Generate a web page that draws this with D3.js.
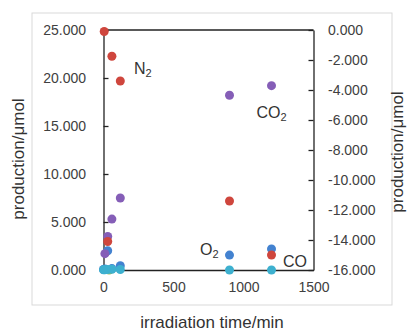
<!DOCTYPE html>
<html>
<head>
<meta charset="utf-8">
<script src="https://cdn.jsdelivr.net/npm/d3@7"></script>
<style>
  body { margin: 0; background: #fff; }
  .axis text { font-family: "Liberation Sans", Arial, sans-serif; font-size: 14px; fill: #404040; }
  .axis path, .axis line { stroke: #222; stroke-width: 1.3; }
  .title { font-family: "Liberation Sans", Arial, sans-serif; font-size: 17px; fill: #333; }
  .lbl { font-family: "Liberation Sans", Arial, sans-serif; font-size: 16px; fill: #333; }
</style>
</head>
<body>
<div id="chart"></div>
<script>
// series values (time in min)
const o2Time = [0, 10, 30, 60, 120, 900, 1200];
const o2Val = [0.05, 0.1, 2.0, 0.15, 0.45, 1.55, 2.2];
const h2Time = [40];
const h2Val = [0.0];
const co2Time = [10, 30, 60, 120, 900, 1200];
const co2Val = [1.7, 3.5, 5.3, 7.5, 18.2, 19.2];
// N2 is plotted on the secondary (right) axis
const n2Time = [5, 30, 60, 120, 900, 1200];
const n2Val = [-0.1, -14.1, -1.75, -3.4, -11.4, -15.0];
const coTime = [0, 10, 30, 60, 120, 900, 1200];
const coVal = [0.02, 0.03, 0.05, 0.08, 0.05, 0.0, 0.0];

const xTicks = [0, 500, 1000, 1500];
const yLeftTicks = [0, 5, 10, 15, 20, 25];
const yRightTicks = [-16, -14, -12, -10, -8, -6, -4, -2, 0];

const W = 408, H = 331;
const margin = { top: 30, right: 94.5, bottom: 61, left: 103.5 };
const w = W - margin.left - margin.right;
const h = H - margin.top - margin.bottom;

const svg = d3.select('#chart').append('svg').attr('width', W).attr('height', H);

// outer chart border
svg.append('rect')
  .attr('x', 32).attr('y', 13).attr('width', 360).attr('height', 292)
  .attr('fill', 'none').attr('stroke', '#d9d9d9').attr('stroke-width', 1);

const g = svg.append('g').attr('transform', `translate(${margin.left},${margin.top})`);

const x = d3.scaleLinear().domain([0, 1500]).range([0, w]);
const yL = d3.scaleLinear().domain([0, 25]).range([h, 0]);
const yR = d3.scaleLinear().domain([-16, 0]).range([h, 0]);

// Axes
g.append('g').attr('class', 'axis')
  .attr('transform', `translate(0,${h})`)
  .call(d3.axisBottom(x).tickValues(xTicks).tickSize(0).tickPadding(12).tickFormat(d3.format('d')));

g.append('g').attr('class', 'axis')
  .call(d3.axisLeft(yL).tickValues(yLeftTicks).tickSizeInner(-5).tickSizeOuter(0).tickPadding(17.5)
    .tickFormat(d => d.toFixed(3)));

g.append('g').attr('class', 'axis')
  .attr('transform', `translate(${w},0)`)
  .call(d3.axisRight(yR).tickValues(yRightTicks).tickSizeInner(-5).tickSizeOuter(0).tickPadding(14.5)
    .tickFormat(d => d.toFixed(3)));

// top frame line
g.append('line').attr('x1', 0).attr('x2', w).attr('y1', 0).attr('y2', 0)
  .attr('stroke', '#222').attr('stroke-width', 1.3);

// Points
const series = [
  { t: o2Time, v: o2Val, y: yL, color: '#4382d0' },
  { t: h2Time, v: h2Val, y: yL, color: '#9bbb59' },
  { t: co2Time, v: co2Val, y: yL, color: '#855eb7' },
  { t: n2Time, v: n2Val, y: yR, color: '#cf463d' },
  { t: coTime, v: coVal, y: yL, color: '#3db0cf' }
];

series.forEach(s => {
  g.append('g').selectAll('circle')
    .data(s.t.map((t, i) => ({ t, v: s.v[i] })))
    .join('circle')
    .attr('cx', d => x(d.t))
    .attr('cy', d => s.y(d.v))
    .attr('r', 4.5)
    .attr('fill', s.color);
});

// Series labels
function label(px, py, main, sub) {
  const t = svg.append('text').attr('class', 'lbl').attr('x', px).attr('y', py).text(main);
  t.append('tspan').attr('font-size', 11).attr('dy', 3).text(sub);
}
label(134, 74, 'N', '2');
label(256.5, 118, 'CO', '2');
label(200, 255, 'O', '2');
svg.append('text').attr('class', 'lbl').attr('x', 283).attr('y', 266.5).text('CO');

// Axis titles
svg.append('text').attr('class', 'title')
  .attr('transform', 'translate(24,159) rotate(-90)')
  .attr('text-anchor', 'middle').text('production/μmol');
svg.append('text').attr('class', 'title')
  .attr('transform', 'translate(403,152) rotate(-90)')
  .attr('text-anchor', 'middle').text('production/μmol');
svg.append('text').attr('class', 'title')
  .attr('x', 212).attr('y', 328)
  .attr('text-anchor', 'middle').text('irradiation time/min');
</script>
</body>
</html>
